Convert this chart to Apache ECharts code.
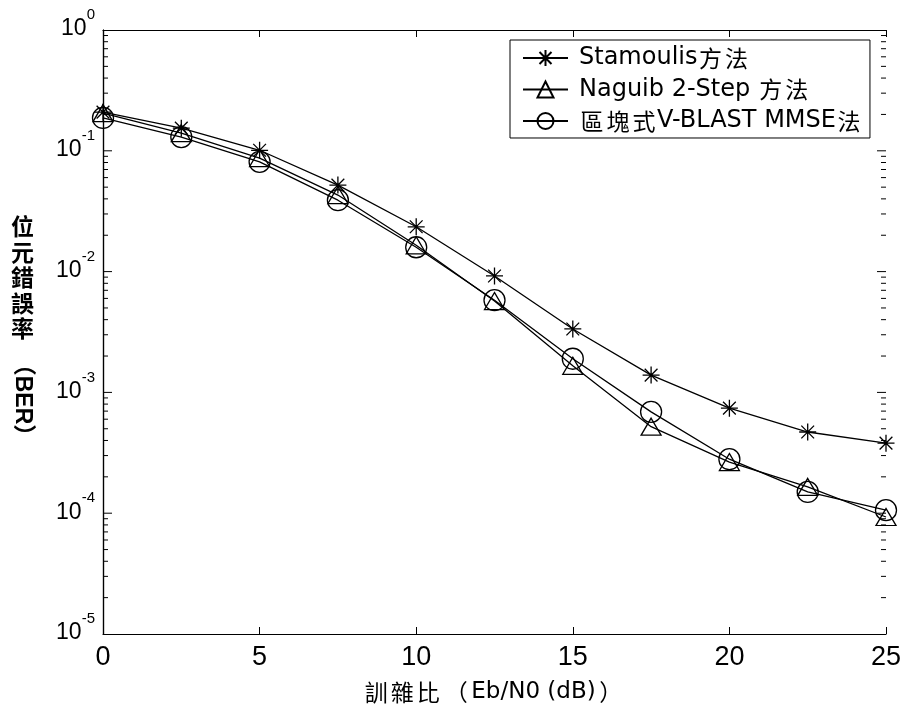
<!DOCTYPE html>
<html>
<head>
<meta charset="utf-8">
<script src="https://cdn.jsdelivr.net/npm/echarts@6/dist/echarts.min.js"></script>
<style>
  html, body { margin: 0; padding: 0; background: #fff; }
  #chart { width: 903px; height: 708px; }
</style>
</head>
<body>
<div id="chart"></div>
<script>
// 訊雜比 (dB)
const snr = [0, 2.5, 5, 7.5, 10, 12.5, 15, 17.5, 20, 22.5, 25];

// 各方法的 BER
const berStamoulis = [0.209, 0.154, 0.101, 0.052, 0.0235, 0.0092, 0.00335, 0.00139, 0.00074, 0.00047, 0.00038];
const berNaguib = [0.205, 0.140, 0.087, 0.043, 0.0165, 0.0057, 0.00166, 0.00052, 0.000265, 0.000165, 0.000093];
const berVBlast = [0.187, 0.130, 0.081, 0.039, 0.0159, 0.0058, 0.0019, 0.00069, 0.00028, 0.00015, 0.000106];

const seriesNames = ['Stamoulis方法', 'Naguib 2-Step 方法', '區塊式V-BLAST MMSE法'];

// 對數軸刻度（每個十進位 1..9）
const decades = [1e-5, 1e-4, 1e-3, 1e-2, 1e-1];
const mantissas = [1, 2, 3, 4, 5, 6, 7, 8, 9];

const latin = "'Liberation Sans', 'Noto Sans CJK TC', sans-serif";
const dejavu = "'DejaVu Sans', 'Noto Sans CJK TC', sans-serif";
const cjk = "'Noto Sans CJK TC', sans-serif";
const starPath = 'path://M0,-10L0,10M-10,0L10,0M-7.5,-7.5L7.5,7.5M-7.5,7.5L7.5,-7.5';

const pairs = ys => snr.map((x, i) => [x, ys[i]]);

const logTicks = [];
decades.forEach(d => mantissas.forEach(m => {
  if (d * m > 1e-5 && d * m < 1) logTicks.push([m, d * m]);
}));

// 中文字放寬字距
const spaceCjk = s => s.replace(/[\u4e00-\u9fff]/g, ch => '{c|' + ch + '}');

const chart = echarts.init(document.getElementById('chart'));

const yLabel = v => '{b|10}{s|' + Math.round(Math.log10(v)) + '}';

const yAxisBase = {
  type: 'log',
  logBase: 10,
  min: 1e-5,
  max: 1,
  axisLine: { show: true, lineStyle: { color: '#000', width: 1.2 } },
  axisTick: { show: false },
  minorTick: { show: false },
  splitLine: { show: false },
  minorSplitLine: { show: false }
};

const xAxisBase = {
  type: 'value',
  min: 0,
  max: 25,
  interval: 5,
  axisLine: { show: true, onZero: false, lineStyle: { color: '#000', width: 1.2 } },
  axisTick: { show: true, inside: true, length: 7, lineStyle: { color: '#000' } },
  splitLine: { show: false }
};

const lineSeries = (name, ys, symbol, size) => ({
  name: name,
  type: 'line',
  data: pairs(ys),
  symbol: symbol,
  symbolSize: size,
  showAllSymbol: true,
  lineStyle: { color: '#000', width: 1.3 },
  itemStyle: { color: 'none', borderColor: '#000', borderWidth: 1.3 },
  emphasis: { disabled: true },
  z: 3
});

// 對數刻度線：side = 0 左側，25 右側
const tickSeries = (side, dir) => ({
  type: 'custom',
  silent: true,
  clip: false,
  z: 5,
  data: logTicks,
  encode: { x: 0, y: 1 },
  renderItem: (params, api) => {
    const v = api.value(1);
    const len = api.value(0) === 1 ? 9 : 5;
    const p = api.coord([side, v]);
    return {
      type: 'line',
      shape: { x1: p[0], y1: p[1], x2: p[0] + dir * len, y2: p[1] },
      style: { stroke: '#000', lineWidth: 1 }
    };
  }
});

const option = {
  backgroundColor: '#fff',
  animation: false,
  grid: { left: 103, right: 17, top: 30, bottom: 74, outerBoundsMode: 'none', containLabel: false },
  xAxis: [
    Object.assign({}, xAxisBase, {
      position: 'bottom',
      name: '{c|訓}{c|雜}{c|比}{pl|（}Eb/N0 (dB){pr|）}',
      nameLocation: 'middle',
      nameGap: 45,
      nameTextStyle: {
        fontFamily: dejavu, fontSize: 23, color: '#000', lineHeight: 26,
        rich: {
          c: { fontFamily: cjk, fontSize: 23, lineHeight: 26, width: 26, align: 'center', color: '#000' },
          pl: { fontFamily: cjk, fontSize: 23, lineHeight: 26, width: 30, align: 'right', color: '#000' },
          pr: { fontFamily: cjk, fontSize: 23, lineHeight: 26, width: 30, align: 'left', color: '#000' }
        }
      },
      axisLabel: { fontFamily: latin, fontSize: 27, color: '#000', margin: 10 }
    }),
    Object.assign({}, xAxisBase, {
      position: 'top',
      axisLabel: { show: false }
    })
  ],
  yAxis: [
    Object.assign({}, yAxisBase, {
      position: 'left',
      axisLabel: {
        align: 'right',
        margin: 8,
        padding: [0, 0, 12, 0],
        formatter: yLabel,
        rich: {
          b: { fontFamily: latin, fontSize: 23, color: '#000', lineHeight: 33, verticalAlign: 'bottom' },
          s: { fontFamily: latin, fontSize: 15, color: '#000', lineHeight: 15, verticalAlign: 'top' }
        }
      }
    }),
    Object.assign({}, yAxisBase, {
      position: 'right',
      axisLabel: { show: false }
    })
  ],
  legend: {
    left: 510,
    top: 40,
    orient: 'vertical',
    data: seriesNames,
    backgroundColor: '#fff',
    borderColor: '#000',
    borderWidth: 1,
    padding: [6, 8, 5, 12],
    itemGap: 7.5,
    itemWidth: 45,
    itemHeight: 20,
    formatter: spaceCjk,
    textStyle: {
      fontFamily: dejavu, fontSize: 24, lineHeight: 20, color: '#000', padding: [0, 0, 0, 6],
      rich: {
        c: { fontFamily: cjk, fontSize: 23, lineHeight: 20, width: 26, align: 'center', color: '#000' }
      }
    },
    selectedMode: false
  },
  graphic: [
    {
      type: 'text',
      left: 11,
      top: 214,
      style: {
        text: '位\n元\n錯\n誤\n率',
        font: "bold 23px 'Noto Sans CJK TC'",
        lineHeight: 25.5,
        fill: '#000'
      }
    },
    {
      type: 'text',
      x: 22,
      y: 400,
      rotation: -Math.PI / 2,
      style: {
        text: '（BER）',
        font: "bold 23px 'Liberation Sans', 'Noto Sans CJK TC'",
        textAlign: 'center',
        textVerticalAlign: 'middle',
        fill: '#000'
      }
    }
  ],
  series: [
    lineSeries(seriesNames[0], berStamoulis, starPath, 17),
    lineSeries(seriesNames[1], berNaguib, 'triangle', [20, 17]),
    lineSeries(seriesNames[2], berVBlast, 'circle', 21),
    tickSeries(0, 1),
    tickSeries(25, -1)
  ]
};

chart.setOption(option);
</script>
</body>
</html>
